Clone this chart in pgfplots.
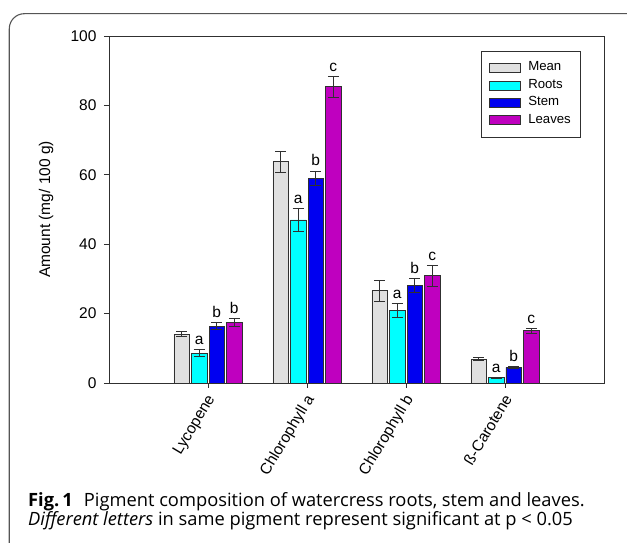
\documentclass[border=0pt]{standalone}
\usepackage{fontspec}
\setmainfont{Liberation Sans}
\newfontfamily\capfont{Open Sans}
\usepackage{pgfplots}
\pgfplotsset{compat=1.18}
\usepackage{pgfplotstable}

\definecolor{meanfill}{HTML}{E0E0E0}
\definecolor{rootsfill}{HTML}{00FFFF}
\definecolor{stemfill}{HTML}{0000F0}
\definecolor{leavesfill}{HTML}{BF00BF}
\definecolor{edge}{HTML}{303030}
\definecolor{framec}{HTML}{555555}

\pgfplotstableread{
x y err
1 14.1 0.7
2 63.8 3.0
3 26.6 3.0
4 6.9 0.4
}\meantab
\pgfplotstableread{
x y err lab
1 8.6 1.0 a
2 47.0 3.2 a
3 20.9 2.0 a
4 1.5 0.2 a
}\roottab
\pgfplotstableread{
x y err lab
1 16.4 1.1 b
2 59.0 2.1 b
3 28.1 2.1 b
4 4.5 0.3 b
}\stemtab
\pgfplotstableread{
x y err lab
1 17.5 1.2 b
2 85.4 3.0 c
3 30.9 3.0 c
4 15.1 0.7 c
}\leavestab

\newcommand{\chartfont}{\fontsize{15.5}{18}\selectfont}
\newcommand{\legfont}{\fontsize{13.2}{15}\selectfont}
\newcommand{\capsize}{\fontsize{18.3}{21}\selectfont}

\pgfplotsset{
  barstyle/.style={ybar, bar width=15.5pt, bar shift=0pt, draw=edge, line width=0.8pt,
    error bars/y dir=both, error bars/y explicit,
    error bars/error bar style={edge, line width=0.9pt},
    error bars/error mark options={edge, line width=0.9pt, mark size=5.5pt, rotate=90},
  },
  swatch/.style={legend image code/.code={\draw[##1, line width=0.8pt] (0pt,-4.5pt) rectangle (31pt,4.5pt); \path[draw=none] (37pt,0pt);}},
  letters/.style={ybar, bar width=15.5pt, bar shift=0pt, draw=none, fill=none, forget plot,
    nodes near coords, point meta=explicit symbolic,
    every node near coord/.append style={font=\chartfont, anchor=base, yshift=5pt, inner sep=0pt}},
}

\begin{document}
\begin{tikzpicture}[x=1pt,y=1pt]
\useasboundingbox (-109,-160) rectangle (518,383);
\draw[framec, line width=1.1pt] (-99.7,-161) -- (-99.7,354.3) arc[start angle=180, end angle=90, radius=15] -- (519,369.3);
\begin{axis}[
  at={(0pt,0pt)}, anchor=origin,
  scale only axis, width=495pt, height=347pt,
  xmin=0, xmax=5, ymin=0, ymax=100,
  xtick={1,2,3,4},
  xticklabels={Lycopene, Chlorophyll a, Chlorophyll b, ß-Carotene},
  ytick={0,20,40,60,80,100},
  tick align=outside, tick pos=left,
  major tick length=5pt,
  tick style={edge, line width=0.9pt},
  axis line style={edge, line width=0.9pt},
  /pgf/number format/assume math mode=true,
  tick label style={font=\chartfont},
  xticklabel style={xshift=-2.5pt, yshift=-3.5pt, rotate=59, anchor=north east, inner sep=1pt},
  yticklabel style={xshift=-4pt},
  ylabel={Amount (mg/ 100 g)},
  every axis y label/.style={at={(axis description cs:-0.127,0.5)}, rotate=90, anchor=center, font=\chartfont},
  legend style={at={(axis description cs:0.7515,0.957)}, anchor=north west,
    draw=edge, line width=0.8pt, font=\legfont,
    inner xsep=8pt, inner ysep=8pt,
    row sep=0pt,
    nodes={font=\legfont, inner sep=1.5pt, text height=10pt, text depth=4.4pt}},
  legend cell align=left,
]
\addplot[barstyle, fill=meanfill, swatch] table[x expr=\thisrow{x}-0.2652, y=y, y error=err] {\meantab};
\addlegendentry{Mean}
\addplot[barstyle, fill=rootsfill, swatch] table[x expr=\thisrow{x}-0.0884, y=y, y error=err] {\roottab};
\addlegendentry{Roots}
\addplot[barstyle, fill=stemfill, swatch] table[x expr=\thisrow{x}+0.0884, y=y, y error=err] {\stemtab};
\addlegendentry{Stem}
\addplot[barstyle, fill=leavesfill, swatch] table[x expr=\thisrow{x}+0.2652, y=y, y error=err] {\leavestab};
\addlegendentry{Leaves}

\addplot[letters] table[x expr=\thisrow{x}-0.0884, y expr=\thisrow{y}+\thisrow{err}, meta=lab] {\roottab};
\addplot[letters] table[x expr=\thisrow{x}+0.0884, y expr=\thisrow{y}+\thisrow{err}, meta=lab] {\stemtab};
\addplot[letters] table[x expr=\thisrow{x}+0.2652, y expr=\thisrow{y}+\thisrow{err}, meta=lab] {\leavestab};
\end{axis}
\node[anchor=base west, inner sep=0pt, font=\capfont\capsize] at (-81,-123.7) {\textbf{Fig.\,1}\hspace{0.6em}Pigment composition of watercress roots, stem and leaves.};
\node[anchor=base west, inner sep=0pt, font=\capfont\capsize] at (-81,-142.5) {\textit{Different letters} in same pigment represent significant at p < 0.05};
\end{tikzpicture}
\end{document}
